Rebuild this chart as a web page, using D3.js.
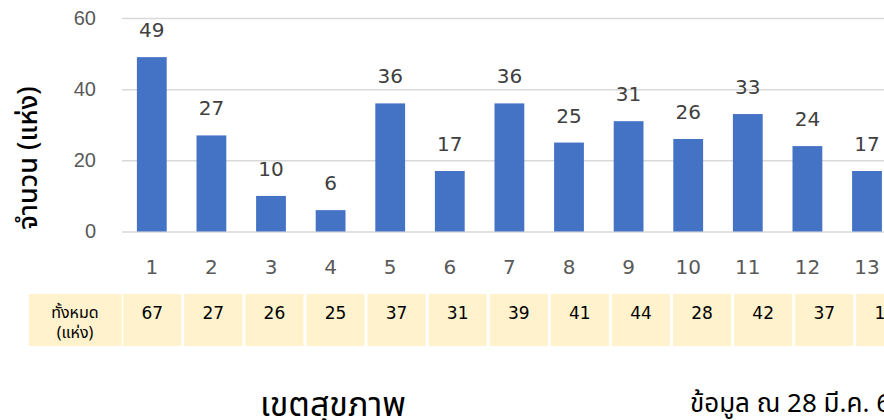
<!DOCTYPE html>
<html>
<head>
<meta charset="utf-8">
<script src="https://cdn.jsdelivr.net/npm/d3@7"></script>
<style>
  body { margin: 0; background: #fff; }
  svg { display: block; font-family: "DejaVu Sans", "Noto Sans Thai", "Noto Sans", sans-serif; }
  .thai { font-family: "Noto Sans Thai", "Noto Sans", sans-serif; }
</style>
</head>
<body>
<svg id="chart" width="884" height="420"></svg>
<script>
// เขตสุขภาพ 1-13
const regions = ["1", "2", "3", "4", "5", "6", "7", "8", "9", "10", "11", "12", "13"];
const counts = [49, 27, 10, 6, 36, 17, 36, 25, 31, 26, 33, 24, 17];
const totals = [67, 27, 26, 25, 37, 31, 39, 41, 44, 28, 42, 37, 17];
const yTicks = [0, 20, 40, 60];

const svg = d3.select("#chart");

const x = d3.scaleBand()
    .domain(regions)
    .range([122, 122 + 13 * 59.6])
    .paddingInner(0.5)
    .paddingOuter(0.25);

const y = d3.scaleLinear()
    .domain([0, 60])
    .range([231.5, 18]);

// grid lines
const yAxis = d3.axisLeft(y).tickValues(yTicks).tickSize(-(884 - 122)).tickPadding(26);
const gy = svg.append("g")
    .attr("transform", "translate(122,0)")
    .call(yAxis);
gy.select(".domain").remove();
gy.selectAll(".tick line").attr("stroke", "#d9d9d9").attr("stroke-width", 1.5);
gy.selectAll(".tick text")
    .attr("fill", "#595959")
    .attr("font-family", null)
    .attr("font-size", 20);

// bars
svg.selectAll("rect.bar")
    .data(counts).enter()
    .append("rect")
    .attr("class", "bar")
    .attr("x", (d, i) => x(regions[i]))
    .attr("y", d => y(d))
    .attr("width", x.bandwidth())
    .attr("height", d => y(0) - y(d))
    .attr("fill", "#4472c4");

// value labels
svg.selectAll("text.val")
    .data(counts).enter()
    .append("text")
    .attr("class", "val")
    .attr("x", (d, i) => x(regions[i]) + x.bandwidth() / 2)
    .attr("y", d => y(d) - 20)
    .attr("text-anchor", "middle")
    .attr("fill", "#404040")
    .attr("font-size", 20)
    .text(d => d);

// x axis labels
const xAxis = d3.axisBottom(x).tickSize(0).tickPadding(28);
const gx = svg.append("g")
    .attr("transform", `translate(0,${y(0)})`)
    .call(xAxis);
gx.select(".domain").remove();
gx.attr("font-family", null);
gx.selectAll(".tick text").attr("fill", "#595959").attr("font-size", 20);

// y title
svg.append("text")
    .attr("class", "thai")
    .attr("transform", "translate(37,158) rotate(-90)")
    .attr("text-anchor", "middle")
    .attr("fill", "#000")
    .attr("font-size", 27)
    .attr("font-weight", 500)
    .text("จำนวน (แห่ง)");

// table of totals
const xt = d3.scaleBand()
    .domain(regions)
    .range([121.7, 121.7 + 13 * 61.09])
    .paddingInner(0.046)
    .paddingOuter(0.023);

const table = svg.append("g");
table.append("rect")
    .attr("x", 29).attr("y", 294)
    .attr("width", 92.7).attr("height", 52)
    .attr("fill", "#fff2cc");
table.append("text")
    .attr("class", "thai")
    .attr("x", 75).attr("y", 313)
    .attr("text-anchor", "middle")
    .attr("dominant-baseline", "central")
    .attr("font-size", 16)
    .text("ทั้งหมด");
table.append("text")
    .attr("class", "thai")
    .attr("x", 75).attr("y", 333)
    .attr("text-anchor", "middle")
    .attr("dominant-baseline", "central")
    .attr("font-size", 16)
    .text("(แห่ง)");

table.selectAll("rect.cell")
    .data(totals).enter()
    .append("rect")
    .attr("class", "cell")
    .attr("x", (d, i) => xt(regions[i]))
    .attr("y", 294)
    .attr("width", xt.bandwidth())
    .attr("height", 52)
    .attr("fill", "#fff2cc");

table.selectAll("text.cellval")
    .data(totals).enter()
    .append("text")
    .attr("class", "cellval")
    .attr("x", (d, i) => xt(regions[i]) + xt.bandwidth() / 2)
    .attr("y", 313)
    .attr("text-anchor", "middle")
    .attr("dominant-baseline", "central")
    .attr("font-size", 17)
    .text(d => d);

// x title and note
svg.append("text")
    .attr("class", "thai")
    .attr("x", 333).attr("y", 416)
    .attr("text-anchor", "middle")
    .attr("font-size", 34)
    .text("เขตสุขภาพ");

svg.append("text")
    .attr("class", "thai")
    .attr("x", 690).attr("y", 412)
    .attr("font-size", 26)
    .text("ข้อมูล ณ 28 มี.ค. 65");
</script>
</body>
</html>
